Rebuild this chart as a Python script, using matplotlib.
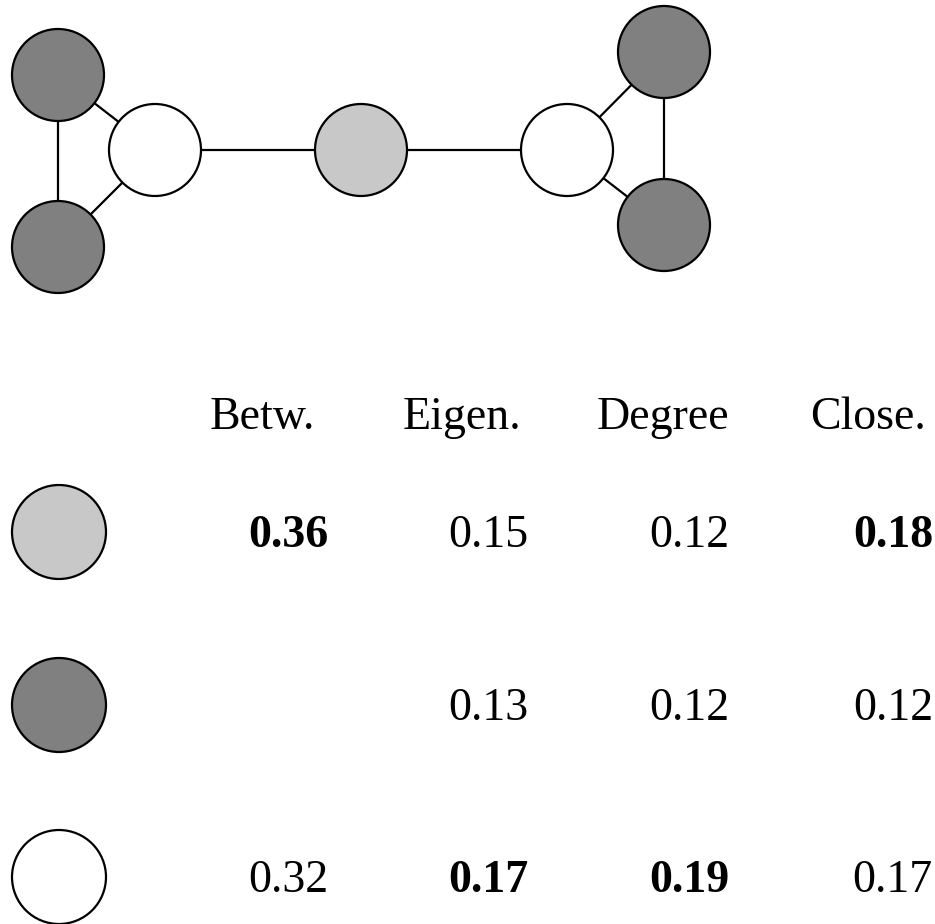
import numpy as np
import matplotlib
matplotlib.use("Agg")
import matplotlib.pyplot as plt
from matplotlib.patches import Circle

plt.rcParams["font.family"] = ["Liberation Serif", "DejaVu Serif"]

# graph: node positions (pixels) and node class
node_x = [58, 58, 155, 361, 567, 664, 664]
node_y = [75, 247, 150, 150, 150, 52, 225]
node_class = ["peripheral", "peripheral", "bridge_end", "center", "bridge_end", "peripheral", "peripheral"]
edges = [(0, 1), (0, 2), (1, 2), (2, 3), (3, 4), (4, 5), (4, 6), (5, 6)]

# table
metrics = ["Betw.", "Eigen.", "Degree", "Close."]
row_classes = ["center", "peripheral", "bridge_end"]
betw = [0.36, None, 0.32]
eigen = [0.15, 0.13, 0.17]
degree = [0.12, 0.12, 0.19]
close = [0.18, 0.12, 0.17]

colors = {"center": "#c8c8c8", "peripheral": "#808080", "bridge_end": "#ffffff"}

fig = plt.figure(figsize=(9.35, 9.24), dpi=100)
ax = fig.add_axes([0, 0, 1, 1])
ax.set_xlim(0, 935)
ax.set_ylim(924, 0)
ax.set_aspect("equal")
ax.axis("off")

r = 46
for a, b in edges:
    ax.plot([node_x[a], node_x[b]], [node_y[a], node_y[b]], color="black", lw=1.6, zorder=1)
for x, y, c in zip(node_x, node_y, node_class):
    ax.add_patch(Circle((x, y), r, facecolor=colors[c], edgecolor="black", lw=1.6, zorder=2))

header_x = [262, 462, 663, 868]
value_right = [328, 528, 729, 933]
header_base = 429
row_base = [547, 720, 892]
fs = 33

for name, hx in zip(metrics, header_x):
    ax.text(hx, header_base, name, fontsize=fs, ha="center", va="baseline")

columns = [betw, eigen, degree, close]
for j, col in enumerate(columns):
    best = max(v for v in col if v is not None)
    for i, v in enumerate(col):
        if v is None:
            continue
        ax.text(value_right[j], row_base[i], f"{v:.2f}", fontsize=fs, ha="right", va="baseline",
                fontweight="bold" if v == best else "normal")

for i, c in enumerate(row_classes):
    ax.add_patch(Circle((59, row_base[i] - 15), 47, facecolor=colors[c], edgecolor="black", lw=1.6, zorder=2))

fig.savefig("out.png", dpi=100)
